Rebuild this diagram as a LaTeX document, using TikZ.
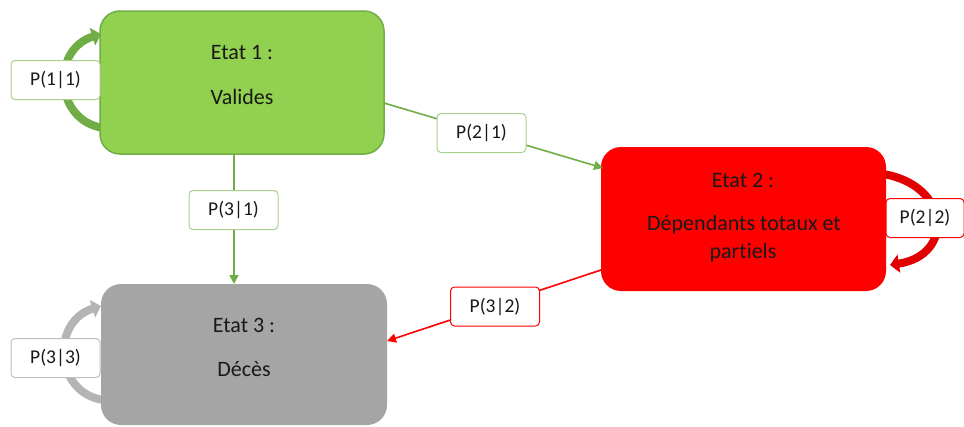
\documentclass[tikz,border=0pt]{standalone}
\usepackage{fontspec}
\setmainfont[Ligatures=NoCommon]{Carlito}
\usetikzlibrary{arrows.meta}
\definecolor{gfill}{HTML}{92D050}
\definecolor{gline}{HTML}{70AD47}
\definecolor{glab}{HTML}{A9D18E}
\definecolor{rfill}{HTML}{FF0000}
\definecolor{rdark}{HTML}{E00000}
\definecolor{grfill}{HTML}{A5A5A5}
\definecolor{grloop}{HTML}{B4B4B4}
\definecolor{grlab}{HTML}{BFBFBF}
\begin{document}
\begin{tikzpicture}[x=1pt,y=-1pt,
  state/.style={rounded corners=20pt,inner sep=0pt,anchor=north west},
  txt/.style={font=\fontsize{22}{24}\selectfont,text=black!90},
  lab/.style={draw,fill=white,rounded corners=4pt,line width=1pt,minimum width=89pt,minimum height=39pt,inner sep=0pt,font=\fontsize{19.5}{22}\selectfont,text=black!90},
  conn/.style={line width=1.6pt,-{Triangle[width=9pt,length=9pt]}},
  loop/.style={line width=8pt,-{Triangle[width=18pt,length=9pt]}}]
\useasboundingbox (0,0) rectangle (964,426);
% loops (behind boxes)
\draw[loop,gline] (104,128) .. controls (55,122) and (50,50) .. (101,34);
\draw[loop,rdark] (883,174) .. controls (950,185) and (955,255) .. (890,265);
\draw[loop,grloop] (104,400) .. controls (55,394) and (50,322) .. (101,306);
% states
\draw[state,fill=gfill,draw=gline,line width=1.5pt] (100,11) rectangle (384,154);
\node[state,minimum width=284pt,minimum height=143pt] (s1) at (100,11) {};
\fill[state,fill=rfill] (601,147) rectangle (886,291);
\node[state,minimum width=285pt,minimum height=144pt] (s2) at (601,147) {};
\fill[state,fill=grfill] (101,284) rectangle (387,425);
\node[state,minimum width=286pt,minimum height=141pt] (s3) at (101,284) {};
% texts
\node[txt] (t1a) at (242,53) {Etat 1 :};
\node[txt] (t1b) at (242,97) {Valides};
\node[txt] (t2a) at (743,180) {Etat 2 :};
\node[txt] (t2b) at (744,225) {Dépendants totaux et};
\node[txt] (t2c) at (743,253) {partiels};
\node[txt] (t3a) at (244,325) {Etat 3 :};
\node[txt] (t3b) at (244,369) {Décès};
% connectors
\coordinate (a1) at (384,103);
\coordinate (b1) at (603,168);
\draw[conn,gline] (a1) -- (b1);
\coordinate (a2) at (234,154);
\coordinate (b2) at (234,284);
\draw[conn,gline] (a2) -- (b2);
\coordinate (a3) at (601,270);
\coordinate (b3) at (387,341);
\draw[conn,rfill] (a3) -- (b3);
% labels
\node[lab,draw=glab] (l11) at (55.5,80) {P(1|1)};
\node[lab,draw=glab] (l21) at (481.5,133) {P(2|1)};
\node[lab,draw=glab] (l31) at (233.5,210) {P(3|1)};
\node[lab,draw=rfill,minimum width=78pt] (l22) at (925,218) {P(2|2)};
\node[lab,draw=rfill] (l32) at (495,306.5) {P(3|2)};
\node[lab,draw=grlab] (l33) at (55.5,358) {P(3|3)};
\end{tikzpicture}
\end{document}
